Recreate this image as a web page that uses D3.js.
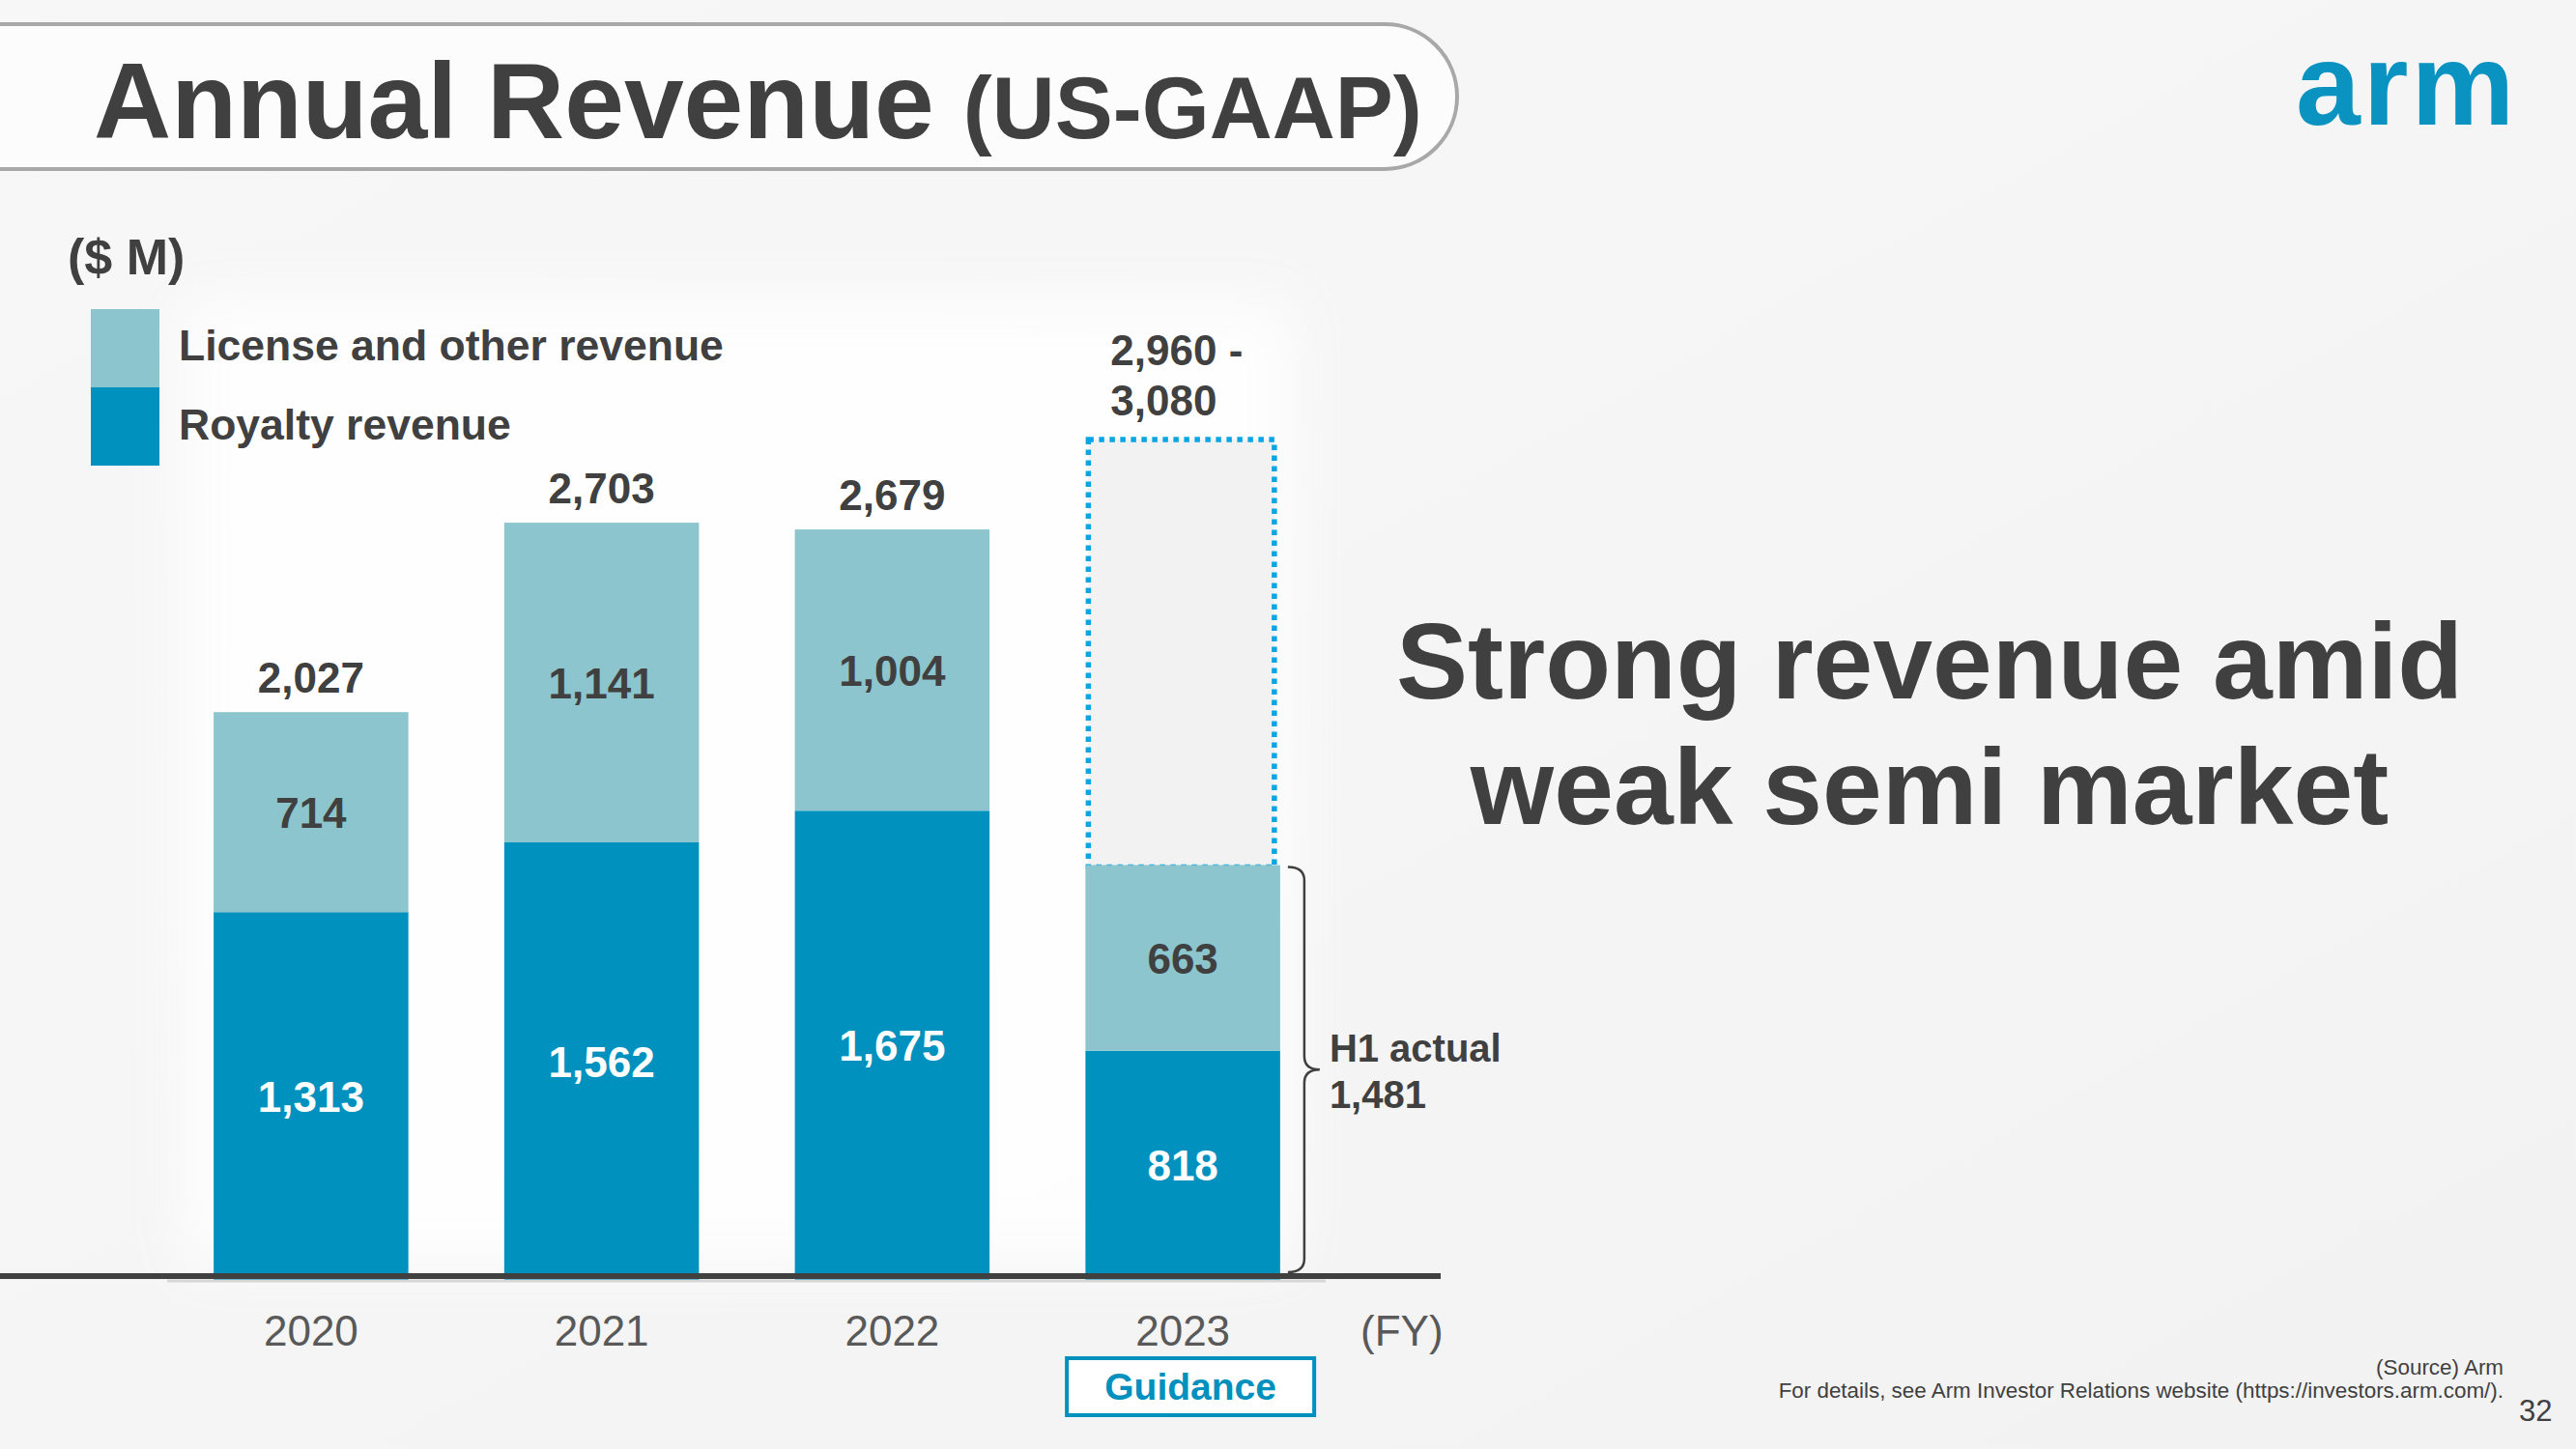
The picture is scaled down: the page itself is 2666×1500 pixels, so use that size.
<!DOCTYPE html>
<html>
<head>
<meta charset="utf-8">
<script src="https://cdn.jsdelivr.net/npm/d3@7"></script>
<style>
  html, body { margin: 0; padding: 0; background: #f5f5f5; }
  svg { display: block; }
  text { font-family: "Liberation Sans", Arial, sans-serif; }
</style>
</head>
<body>
<svg id="chart" width="2666" height="1500"></svg>
<script>
// ---- data ----
const years = ["2020", "2021", "2022", "2023"];
const royaltyRevenue = [1313, 1562, 1675, 818];
const licenseRevenue = [714, 1141, 1004, 663];
const showTotal = [true, true, true, false];
const guidanceLow = 2960;
const guidanceHigh = 3080;
const guidanceBarTop = 3000;   // height of the dotted guidance box as drawn
const guidanceYear = "2023";
const seriesNames = ["License and other revenue", "Royalty revenue"];
const yMax = 3000;

const COL_ROY = "#0091be";
const COL_LIC = "#8cc5cd";
const COL_TXT = "#404040";
const COL_BLUE = "#0090bd";
const COL_DOT = "#0aa6e4";

const svg = d3.select("#chart");
const fmt = d3.format(",");

// background
const defs = svg.append("defs");
const bg = defs.append("linearGradient").attr("id", "bg").attr("x1", "0").attr("y1", "0").attr("x2", "1").attr("y2", "1");
bg.append("stop").attr("offset", "0").attr("stop-color", "#f7f7f7");
bg.append("stop").attr("offset", "0.5").attr("stop-color", "#f5f5f5");
bg.append("stop").attr("offset", "1").attr("stop-color", "#f2f2f2");
defs.append("filter").attr("id", "soft").attr("x", "-0.2").attr("y", "-0.2").attr("width", "1.4").attr("height", "1.4")
  .append("feGaussianBlur").attr("stdDeviation", 30);
svg.append("rect").attr("width", 2666).attr("height", 1500).attr("fill", "url(#bg)");
// soft white glow behind the chart
svg.append("rect").attr("x", 190).attr("y", 310).attr("width", 1150).attr("height", 1000)
  .attr("fill", "#ffffff").attr("opacity", 0.9).attr("filter", "url(#soft)");

// title pill
svg.append("rect").attr("x", -120).attr("y", 25).attr("width", 1628).attr("height", 150)
  .attr("rx", 75).attr("ry", 75)
  .attr("fill", "#fcfcfc").attr("stroke", "#a8a8a8").attr("stroke-width", 4);
const title = svg.append("text").attr("x", 97).attr("y", 143).attr("fill", COL_TXT).attr("font-weight", "bold");
title.append("tspan").attr("font-size", 111).text("Annual Revenue");
title.append("tspan").attr("font-size", 90).attr("dx", 30).text("(US-GAAP)");

// arm logo
svg.append("text").attr("x", 2376).attr("y", 129)
  .attr("font-family", "Inter, 'Open Sans', sans-serif").attr("font-weight", 700)
  .attr("font-size", 120).attr("letter-spacing", 3).attr("fill", "#0a93c1").text("arm");

// unit
svg.append("text").attr("x", 70).attr("y", 284).attr("font-size", 52).attr("font-weight", "bold")
  .attr("fill", COL_TXT).text("($ M)");

// scales
const x = d3.scaleBand().domain(years).range([171.5, 1374.5]).paddingInner(0.33).paddingOuter(0.165);
const y = d3.scaleLinear().domain([0, yMax]).range([1325, 455]);
const bw = x.bandwidth();

// legend
const legend = svg.append("g");
const legendColors = [COL_LIC, COL_ROY];
seriesNames.forEach((name, i) => {
  legend.append("rect").attr("x", 94).attr("y", 320 + i * 81).attr("width", 71).attr("height", 81)
    .attr("fill", legendColors[i]);
  legend.append("text").attr("x", 185).attr("y", 373 + i * 82).attr("font-size", 44.5)
    .attr("font-weight", "bold").attr("fill", COL_TXT).text(name);
});

// guidance dotted box
const gi = years.indexOf(guidanceYear);
const h1Total = royaltyRevenue[gi] + licenseRevenue[gi];
svg.append("rect")
  .attr("x", x(guidanceYear) + 3).attr("y", y(guidanceBarTop))
  .attr("width", bw - 9).attr("height", y(h1Total) - y(guidanceBarTop) + 2)
  .attr("fill", "#f2f2f2").attr("stroke", COL_DOT).attr("stroke-width", 5.5)
  .attr("stroke-dasharray", "5.5 5.5");

// bars
const rows = years.map((yr, i) => ({ yr, roy: royaltyRevenue[i], lic: licenseRevenue[i], total: royaltyRevenue[i] + licenseRevenue[i], show: showTotal[i] }));
const bars = svg.append("g");
bars.selectAll(".roy").data(rows).join("rect").attr("class", "roy")
  .attr("x", d => x(d.yr)).attr("width", bw)
  .attr("y", d => y(d.roy)).attr("height", d => y(0) - y(d.roy)).attr("fill", COL_ROY);
bars.selectAll(".lic").data(rows).join("rect").attr("class", "lic")
  .attr("x", d => x(d.yr)).attr("width", bw)
  .attr("y", d => y(d.total)).attr("height", d => y(d.roy) - y(d.total)).attr("fill", COL_LIC);

// segment labels
const lbl = svg.append("g").attr("font-weight", "bold").attr("font-size", 44).attr("text-anchor", "middle");
lbl.selectAll(".rl").data(rows).join("text")
  .attr("x", d => x(d.yr) + bw / 2).attr("y", d => (y(0) + y(d.roy)) / 2 + 16)
  .attr("fill", "#ffffff").text(d => fmt(d.roy));
lbl.selectAll(".ll").data(rows).join("text")
  .attr("x", d => x(d.yr) + bw / 2).attr("y", d => (y(d.roy) + y(d.total)) / 2 + 16)
  .attr("fill", COL_TXT).text(d => fmt(d.lic));
lbl.selectAll(".tl").data(rows.filter(d => d.show)).join("text")
  .attr("x", d => x(d.yr) + bw / 2).attr("y", d => y(d.total) - 20)
  .attr("fill", COL_TXT).text(d => fmt(d.total));

// guidance range label
const gl = svg.append("text").attr("font-weight", "bold").attr("font-size", 44).attr("fill", COL_TXT);
gl.append("tspan").attr("x", x(guidanceYear) + 26).attr("y", 378).text(fmt(guidanceLow) + " -");
gl.append("tspan").attr("x", x(guidanceYear) + 26).attr("y", 430).text(fmt(guidanceHigh));

// baseline + axis
svg.append("line").attr("x1", 173).attr("x2", 1372).attr("y1", 1326).attr("y2", 1326)
  .attr("stroke", "#d6d6d6").attr("stroke-width", 3);
svg.append("line").attr("x1", 0).attr("x2", 1491).attr("y1", y(0) - 4).attr("y2", y(0) - 4)
  .attr("stroke", COL_TXT).attr("stroke-width", 6);
const axis = svg.append("g").attr("transform", `translate(0,${y(0)})`)
  .call(d3.axisBottom(x).tickSize(0));
axis.select(".domain").remove();
axis.selectAll("text").attr("y", 68).attr("dy", 0).attr("font-size", 44)
  .attr("font-family", "'Liberation Sans', Arial, sans-serif").attr("fill", "#595959");
svg.append("text").attr("x", 1408).attr("y", 1393).attr("font-size", 44).attr("fill", "#595959").text("(FY)");

// Guidance box
const gx = x(guidanceYear) + bw / 2 + 8;
svg.append("rect").attr("x", gx - 128).attr("y", 1406).attr("width", 256).attr("height", 59)
  .attr("fill", "#ffffff").attr("stroke", COL_BLUE).attr("stroke-width", 4);
svg.append("text").attr("x", gx).attr("y", 1449).attr("text-anchor", "middle")
  .attr("font-size", 39).attr("font-weight", "bold").attr("fill", COL_BLUE).text("Guidance");

// brace for H1 actual
const bTop = y(h1Total) + 2, bBot = y(0) - 8, bMid = (bTop + bBot) / 2;
const bx0 = x(guidanceYear) + bw + 8, bx1 = bx0 + 17, bx2 = bx1 + 16;
const r = 14;
const bracePath = `M${bx0},${bTop} Q${bx1},${bTop} ${bx1},${bTop + r}
  L${bx1},${bMid - r} Q${bx1},${bMid} ${bx2},${bMid}
  Q${bx1},${bMid} ${bx1},${bMid + r}
  L${bx1},${bBot - r} Q${bx1},${bBot} ${bx0},${bBot}`;
svg.append("path").attr("d", bracePath).attr("fill", "none").attr("stroke", COL_TXT).attr("stroke-width", 2.5);
const h1 = svg.append("text").attr("font-size", 40).attr("font-weight", "bold").attr("fill", COL_TXT);
h1.append("tspan").attr("x", bx2 + 10).attr("y", 1099).text("H1 actual");
h1.append("tspan").attr("x", bx2 + 10).attr("y", 1147).text(fmt(h1Total));

// headline message
const msg = svg.append("text").attr("text-anchor", "middle").attr("font-size", 111)
  .attr("font-weight", "bold").attr("fill", COL_TXT);
msg.append("tspan").attr("x", 1997).attr("y", 723).text("Strong revenue amid");
msg.append("tspan").attr("x", 1997).attr("y", 853).text("weak semi market");

// footer
const foot = svg.append("g").attr("fill", COL_TXT).attr("font-size", 22.4).attr("text-anchor", "end");
foot.append("text").attr("x", 2591).attr("y", 1423).text("(Source) Arm");
foot.append("text").attr("x", 2591).attr("y", 1447).text("For details, see Arm Investor Relations website (https://investors.arm.com/).");
svg.append("text").attr("x", 2607).attr("y", 1471).attr("font-size", 31).attr("fill", COL_TXT).text("32");
</script>
</body>
</html>
